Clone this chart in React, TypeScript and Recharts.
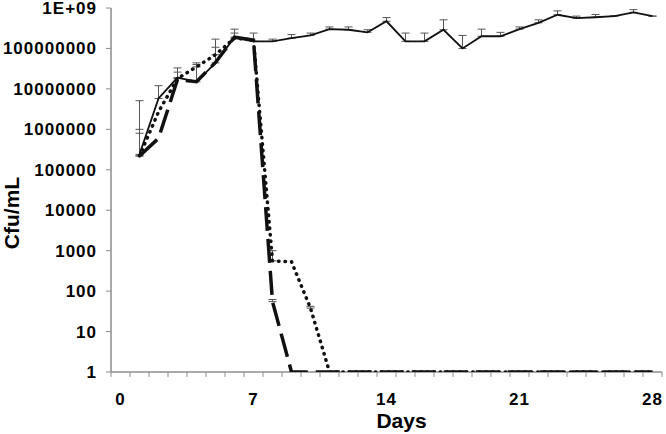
import React from 'react';
import {
  LineChart,
  Line,
  XAxis,
  YAxis,
  ErrorBar,
  Label,
} from 'recharts';

const days = [1, 2, 3, 4, 5, 6, 7, 8, 9, 10, 11, 12, 13, 14, 15, 16, 17, 18, 19, 20, 21, 22, 23, 24, 25, 26, 27, 28];

// control culture (solid)
const control = [
  2.4e5, 5.8e6, 1.9e7, 1.5e7, 4.4e7, 1.9e8, 1.5e8, 1.5e8, 1.8e8, 2.1e8, 3.0e8, 2.9e8, 2.5e8, 4.7e8,
  1.5e8, 1.5e8, 2.9e8, 1.0e8, 2.0e8, 2.0e8, 3.0e8, 4.3e8, 6.8e8, 5.6e8, 5.9e8, 6.3e8, 7.8e8, 6.3e8,
];
const controlTop = [
  5.1e6, 1.2e7, 3.3e7, 4.4e7, 1.7e8, 3.0e8, 2.4e8, 1.7e8, 2.2e8, 2.4e8, 3.4e8, 3.4e8, 2.9e8, 5.8e8,
  2.4e8, 2.4e8, 5.1e8, 2.1e8, 3.0e8, 2.5e8, 3.4e8, 5.1e8, 8.5e8, 6.3e8, 6.9e8, 6.5e8, 9.1e8, 6.3e8,
];

// treatment A (dotted)
const treatA = [
  2.2e5, 2.7e6, 1.8e7, 3.5e7, 7.0e7, 1.8e8, 1.6e8, 560, 530, 38, 1, 1, 1, 1,
  1, 1, 1, 1, 1, 1, 1, 1, 1, 1, 1, 1, 1, 1,
];
const treatATop = [
  1.0e6, null, 2.6e7, 4.0e7, 1.07e8, 2.4e8, null, 1000, null, 42, null, null, null, null,
  null, null, null, null, null, null, null, null, null, null, null, null, null, null,
];

// treatment B (dashed)
const treatB = [
  2.2e5, 6.0e5, 1.7e7, 1.5e7, 4.5e7, 1.9e8, 1.6e8, 55, 1, 1, 1, 1, 1, 1,
  1, 1, 1, 1, 1, 1, 1, 1, 1, 1, 1, 1, 1, 1,
];
const treatBTop = [
  8.0e5, null, null, null, null, null, null, 62, null, null, null, null, null, null,
  null, null, null, null, null, null, null, null, null, null, null, null, null, null,
];

const yTicks = [1, 10, 100, 1000, 10000, 100000, 1000000, 10000000, 100000000, 1000000000];
const dayLabels = [0, 7, 14, 21, 28];

const errOf = (v: number, top: number | null) => (top == null ? null : [0, Math.max(0, top - v)]);

const data = days.map((d, i) => ({
  day: d,
  control: control[i],
  controlErr: errOf(control[i], controlTop[i]),
  treatA: treatA[i],
  treatAErr: errOf(treatA[i], treatATop[i]),
  treatB: treatB[i],
  treatBErr: errOf(treatB[i], treatBTop[i]),
}));

// category edges: ticks sit between days like an Excel category axis
const edges = Array.from({ length: 30 }, (_, i) => i - 0.5);

const font = '"Liberation Sans", Arial, sans-serif';
const axisGray = '#8c8c8c';
const labelStyle = { fontSize: 17, fontWeight: 'bold', fill: '#000', fontFamily: font, letterSpacing: 1 };
const TICK_LEN = 5;
const TICK_GAP = 16;

const fmtY = (v: number) => (v >= 1e9 ? '1E+09' : String(v));

// tick marks on category edges, labels in the middle of the category
const DayTick = (props: any) => {
  const { x, y, payload, width } = props;
  const day = payload.value + 0.5;
  const axisY = y - TICK_GAP - TICK_LEN;
  const half = width / (edges.length - 1) / 2;
  return (
    <g>
      <line x1={x} y1={axisY} x2={x} y2={axisY + TICK_LEN} stroke={axisGray} strokeWidth={1} />
      {dayLabels.includes(day) && (
        <text x={x + half} y={y} dy="0.71em" textAnchor="middle" style={labelStyle}>
          {day}
        </text>
      )}
    </g>
  );
};

export default function App() {
  return (
    <div style={{ position: 'absolute', left: 0, top: 0, background: '#fff' }}>
      <LineChart width={666} height={434} data={data} margin={{ top: 8, right: 4, left: 0, bottom: 0 }}>
        <XAxis
          dataKey="day"
          type="number"
          domain={[-0.5, 28.5]}
          ticks={edges}
          interval={0}
          tick={<DayTick />}
          tickLine={false}
          tickSize={TICK_LEN}
          tickMargin={TICK_GAP}
          height={62}
          axisLine={{ stroke: axisGray, strokeWidth: 1.5 }}
        >
          <Label
            value="Days"
            position="insideBottom"
            offset={6}
            dx={15}
            style={{ fontSize: 21, fontWeight: 'bold', fill: '#000', fontFamily: font }}
          />
        </XAxis>
        <YAxis
          scale="log"
          domain={[1, 1e9]}
          allowDataOverflow
          ticks={yTicks}
          interval={0}
          tickFormatter={fmtY}
          width={111}
          tickSize={5}
          tickMargin={9}
          tick={labelStyle}
          axisLine={{ stroke: axisGray, strokeWidth: 1.5 }}
          tickLine={{ stroke: axisGray }}
        >
          <Label
            content={() => (
              <text
                x={19}
                y={213}
                transform="rotate(-90, 19, 213)"
                textAnchor="middle"
                style={{ fontSize: 21, fontWeight: 'bold', fill: '#000', fontFamily: font }}
              >
                Cfu/mL
              </text>
            )}
          />
        </YAxis>
        <Line
          dataKey="control"
          stroke="#111"
          strokeWidth={1.8}
          dot={false}
          zIndex={600}
          isAnimationActive={false}
        >
          <ErrorBar dataKey="controlErr" direction="y" width={4} stroke="#555" strokeWidth={1} />
        </Line>
        <Line
          dataKey="treatA"
          stroke="#111"
          strokeWidth={3.5}
          strokeDasharray="0.5 6"
          strokeLinecap="round"
          dot={false}
          zIndex={600}
          isAnimationActive={false}
        >
          <ErrorBar dataKey="treatAErr" direction="y" width={4} stroke="#555" strokeWidth={1} />
        </Line>
        <Line
          dataKey="treatB"
          stroke="#111"
          strokeWidth={3.5}
          strokeDasharray="24 8"
          dot={false}
          zIndex={600}
          isAnimationActive={false}
        >
          <ErrorBar dataKey="treatBErr" direction="y" width={4} stroke="#555" strokeWidth={1} />
        </Line>
      </LineChart>
    </div>
  );
}
